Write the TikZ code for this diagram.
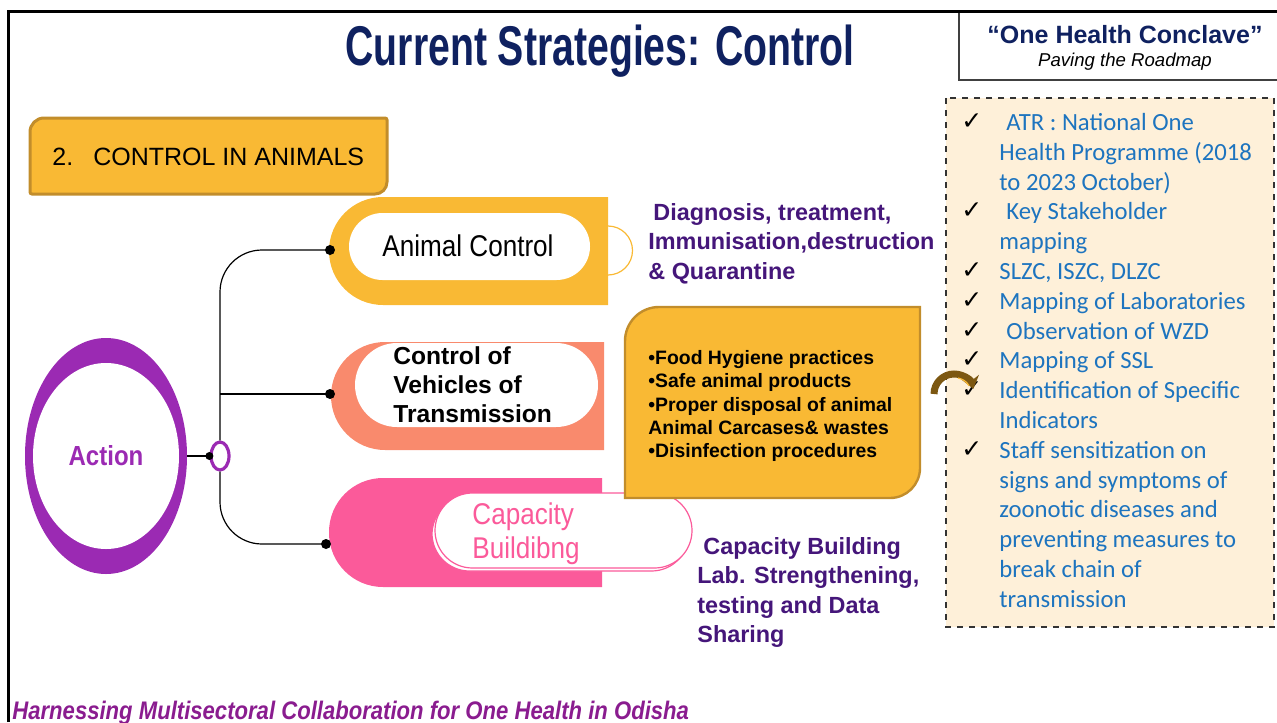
\documentclass[tikz,border=0pt]{standalone}
\usepackage{fontspec}
\setmainfont{Liberation Sans}
\newfontfamily\titlefont[FakeStretch=0.7]{Liberation Sans}
\newfontfamily\condfont[FakeStretch=0.87]{Liberation Sans}
\newfontfamily\calfont{Carlito}
\newfontfamily\tickfont{DejaVu Sans}
\usetikzlibrary{shapes.geometric,arrows.meta}

\definecolor{titlenavy}{HTML}{0F2160}
\definecolor{animyellow}{HTML}{F9B934}
\definecolor{yellowedge}{HTML}{C28D2B}
\definecolor{salmon}{HTML}{F98A6D}
\definecolor{pinkfill}{HTML}{FB5A9A}
\definecolor{actpurple}{HTML}{9B2AB3}
\definecolor{notepurple}{HTML}{45167A}
\definecolor{footpurple}{HTML}{8A1C8F}
\definecolor{listblue}{HTML}{1D74BF}
\definecolor{cream}{HTML}{FEF0D9}
\definecolor{arrowbrown}{HTML}{7C5711}

\newcommand{\tick}{\makebox[19pt][l]{\color{black}\tickfont\fontsize{12.5pt}{12pt}\selectfont\raisebox{0.5pt}{✓}}}
\newcommand{\ind}{\hspace*{19pt}}

\tikzset{
  plain text/.style={inner sep=0pt, align=left},
  note text/.style={plain text, anchor=north west, text=notepurple,
    font=\bfseries\fontsize{11.7pt}{14.75pt}\selectfont},
  branch/.style={black, line width=0.6pt, rounded corners=21pt}
}

\begin{document}
\begin{tikzpicture}[x=0.5pt,y=-0.5pt]
\useasboundingbox (0,0) rectangle (1277,722);

% frame and header
\draw[line width=1.5pt] (8,722) |- (1277,12);
\node[inner sep=0pt, text=titlenavy, font=\titlefont\bfseries\fontsize{28pt}{30pt}\selectfont]
  (title) at (600,51) {Current Strategies: Control};
\draw[black!75, line width=0.8pt] (1278,80) -| (959,13);
\node[inner sep=0pt, text=titlenavy, font=\bfseries\fontsize{12.5pt}{14pt}\selectfont]
  (conclave) at (1125,35) {“One Health Conclave”};
\node[inner sep=0pt, font=\itshape\fontsize{9.3pt}{11pt}\selectfont]
  (roadmap) at (1125,62) {Paving the Roadmap};

% section label
\filldraw[fill=animyellow, draw=yellowedge, line width=1.5pt]
  (30,194) [rounded corners=7pt] -- (30,118) [rounded corners=1pt] -- (387,118)
  [rounded corners=6pt] -- (387,194) [rounded corners=1pt] -- cycle;
\node[plain text, anchor=west, font=\fontsize{12.5pt}{14pt}\selectfont]
  (section) at (52,157) {2.\hspace{10pt}CONTROL IN ANIMALS};

% action ellipse and hub
\node[ellipse, fill=actpurple, inner sep=0pt, minimum width=81pt, minimum height=118pt]
  (action) at (106,456) {};
\fill[white] (106,456) ellipse [x radius=73, y radius=93];
\node[text=actpurple, inner sep=0pt, font=\condfont\bfseries\fontsize{13.8pt}{16pt}\selectfont]
  (actlabel) at (106,456) {Action};
\node[ellipse, draw=actpurple, fill=white, line width=1.6pt, inner sep=0pt,
  minimum width=9pt, minimum height=14pt] (hub) at (220,456) {};
\draw[line width=0.6pt] (action.east) -- (hub.west);
\fill (hub.west) circle (4);

% animal control
\fill[animyellow] (608,197) [rounded corners=27pt] -- (329,197) -- (329,305)
  [sharp corners] -- (608,305) -- cycle;
\fill[white, rounded corners=16.75pt] (349,213) rectangle (590,280);
\draw[animyellow, line width=0.6pt] (608,226) arc[start angle=-90, end angle=90, radius=24.5];
\node[inner sep=0pt, font=\condfont\fontsize{15pt}{17pt}\selectfont]
  (animal) at (468,246) {Animal Control};
\coordinate (acDot) at (330,250);

% vehicles of transmission
\fill[salmon] (604,342) [rounded corners=27pt] -- (331,342) -- (331,450)
  [sharp corners] -- (604,450) -- cycle;
\fill[white, rounded corners=21pt] (355,343) rectangle (598,427);
\node[plain text, anchor=north west, font=\bfseries\fontsize{12.3pt}{14.5pt}\selectfont]
  (vehicles) at (393,346) {Control of\\Vehicles of\\Transmission};
\coordinate (vtDot) at (330,394);

% capacity building
\fill[pinkfill] (602,478) [rounded corners=27pt] -- (329,478) -- (329,587)
  [sharp corners] -- (602,587) -- cycle;
\draw[pinkfill, fill=white, line width=0.6pt, rounded corners=18.75pt] (432,497) rectangle (689,571);
\draw[pinkfill, fill=white, line width=0.6pt, rounded corners=18.75pt] (435,493) rectangle (692,568);
\node[plain text, anchor=north west, text=pinkfill, font=\condfont\fontsize{15pt}{17pt}\selectfont]
  (capacity) at (472,502) {Capacity\\Buildibng};
\coordinate (cbDot) at (326,544);

% connectors
\draw[branch] (hub.north) |- (acDot);
\draw[branch] (hub.south) |- (cbDot);
\draw[line width=0.6pt] (hub.north |- vtDot) -- (vtDot);
\foreach \d in {acDot,vtDot,cbDot}
  \fill (\d) circle (5);

% measures box
\filldraw[fill=animyellow, draw=yellowedge, line width=1.2pt]
  (625,498) [rounded corners=17pt] -- (625,307) [sharp corners] -- (920,307)
  [rounded corners=15pt] -- (920,498) [sharp corners] -- cycle;
\node[plain text, anchor=north west, font=\bfseries\fontsize{9.7pt}{11.65pt}\selectfont]
  (measures) at (648,350) {•Food Hygiene practices\\•Safe animal products\\
  •Proper disposal of animal\\Animal Carcases\& wastes\\•Disinfection procedures};

% purple notes
\node[note text] (diagnosis) at (648,203)
  {\hspace{2.5pt}Diagnosis, treatment,\\Immunisation,destruction\\\& Quarantine};
\node[note text] (building) at (697,537)
  {\hspace{3pt}Capacity Building\\Lab. Strengthening,\\testing and Data\\Sharing};

% action taken list
\draw[dashed, fill=cream, draw=black!80, line width=0.7pt] (946,98) rectangle (1274,627);
\node[plain text, anchor=north west, text=listblue, font=\calfont\fontsize{12.35pt}{14.9pt}\selectfont]
  (atr) at (961,113) {\tick\hspace{3.5pt}ATR : National One\\
  \ind Health Programme (2018\\
  \ind to 2023 October)\\
  \tick\hspace{3.5pt}Key Stakeholder\\
  \ind mapping\\
  \tick SLZC, ISZC, DLZC\\
  \tick Mapping of Laboratories\\
  \tick\hspace{3.5pt}Observation of WZD\\
  \tick Mapping of SSL\\
  \tick Identification of Specific\\
  \ind Indicators\\
  \tick Staff sensitization on\\
  \ind signs and symptoms of\\
  \ind zoonotic diseases and\\
  \ind preventing measures to\\
  \ind break chain of\\
  \ind transmission};
\draw[arrowbrown, line width=3.5pt, -{Stealth[length=6pt,width=9pt]}]
  (934,394) arc[start angle=180, end angle=345, radius=20];
\draw[animyellow, line width=0.6pt] (958,378) arc[start angle=280, end angle=330, radius=16];

% footer
\node[inner sep=0pt, anchor=base west, text=footpurple,
  font=\condfont\bfseries\itshape\fontsize{12.7pt}{14pt}\selectfont]
  (footer) at (12,719) {Harnessing Multisectoral Collaboration for One Health in Odisha};
\end{tikzpicture}
\end{document}
